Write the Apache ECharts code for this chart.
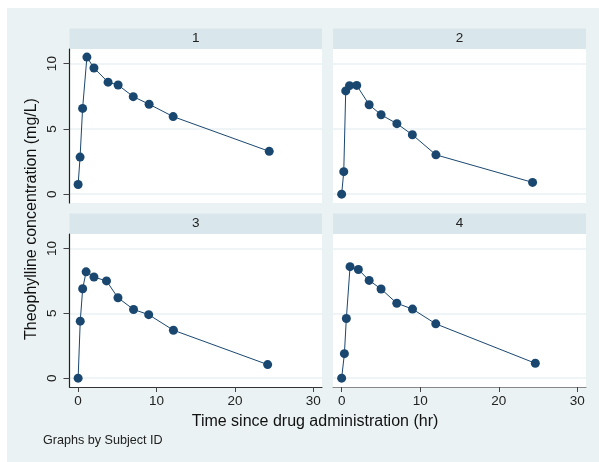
<!DOCTYPE html>
<html><head><meta charset="utf-8">
<script src="https://cdn.jsdelivr.net/npm/echarts@6/dist/echarts.min.js"></script>
<style>html,body{margin:0;padding:0;background:#fff}#c{width:599px;height:462px}</style>
</head><body><div id="c"></div>
<script>
const subjects = ['1','2','3','4'];
const time1 = [0, 0.25, 0.57, 1.12, 2.02, 3.82, 5.10, 7.03, 9.05, 12.12, 24.37];
const conc1 = [0.74, 2.84, 6.57, 10.50, 9.66, 8.58, 8.36, 7.47, 6.89, 5.94, 3.28];
const time2 = [0, 0.27, 0.52, 1.00, 1.92, 3.50, 5.02, 7.03, 9.00, 12.00, 24.30];
const conc2 = [0.00, 1.72, 7.91, 8.31, 8.33, 6.85, 6.08, 5.40, 4.55, 3.01, 0.90];
const time3 = [0, 0.27, 0.58, 1.02, 2.02, 3.62, 5.08, 7.07, 9.00, 12.15, 24.17];
const conc3 = [0.00, 4.40, 6.90, 8.20, 7.80, 7.50, 6.20, 5.30, 4.90, 3.70, 1.05];
const time4 = [0, 0.35, 0.60, 1.07, 2.13, 3.50, 5.02, 7.02, 9.02, 11.98, 24.65];
const conc4 = [0.00, 1.89, 4.60, 8.60, 8.38, 7.54, 6.88, 5.78, 5.33, 4.19, 1.15];
const xTicks = [0, 10, 20, 30];
const yTicks = [0, 5, 10];
const yTitle = 'Theophylline concentration (mg/L)';
const xTitle = 'Time since drug administration (hr)';
const note = 'Graphs by Subject ID';

const times = [time1, time2, time3, time4];
const concs = [conc1, conc2, conc3, conc4];
const FONT = '"Liberation Sans", Arial, sans-serif';
const NAVY = '#1a476f';
const BG = '#eaf2f3';
const STRIP = '#d9e6eb';

const grids = [
  {left: 69.5, top: 49, width: 252.5, height: 154},
  {left: 333, top: 49, width: 253, height: 154},
  {left: 69.5, top: 234, width: 252.5, height: 153},
  {left: 333, top: 234, width: 253, height: 153}
];

const chart = echarts.init(document.getElementById('c'), null, {renderer: 'canvas'});

const graphic = [
  {type: 'rect', z: -10, shape: {x: 7, y: 8, width: 592, height: 454}, style: {fill: BG}, silent: true}
];
grids.forEach((g, i) => {
  graphic.push({type: 'rect', z: -5, shape: {x: g.left, y: g.top - 20.5, width: g.width, height: 20.5}, style: {fill: STRIP}, silent: true});
  graphic.push({type: 'rect', z: -5, shape: {x: g.left, y: g.top, width: g.width, height: g.height}, style: {fill: '#fff'}, silent: true});
  graphic.push({type: 'text', z: 5, x: g.left + g.width / 2, y: g.top - 10.5,
    style: {text: subjects[i], font: '13.5px ' + FONT, fill: '#222', align: 'center', verticalAlign: 'middle'}});
});
graphic.push({type: 'text', x: 32, y: 219, rotation: Math.PI / 2,
  style: {text: yTitle, font: '16px ' + FONT, fill: '#111', align: 'center', verticalAlign: 'middle'}});
graphic.push({type: 'text', x: 315, y: 422,
  style: {text: xTitle, font: '16px ' + FONT, fill: '#111', align: 'center', verticalAlign: 'middle'}});
graphic.push({type: 'text', x: 43, y: 441,
  style: {text: note, font: '12.6px ' + FONT, fill: '#222', align: 'left', verticalAlign: 'middle'}});

const xAxis = grids.map((g, i) => {
  const bottom = i >= 2;
  return {
    type: 'value', gridIndex: i, min: -1.1, max: 31.1,
    axisLine: {show: bottom, onZero: false, lineStyle: {color: i === 2 ? '#333' : '#888', width: 1.2}},
    axisTick: {show: bottom, customValues: xTicks, length: 5, lineStyle: {color: '#444'}},
    axisLabel: {show: bottom, customValues: xTicks, margin: 7, fontSize: 13.5, fontFamily: FONT, color: '#222'},
    splitLine: {show: false}
  };
});
const yAxis = grids.map((g, i) => {
  const left = i % 2 === 0;
  return {
    type: 'value', gridIndex: i, min: -0.68, max: 11.12,
    axisLine: {show: left, onZero: false, lineStyle: {color: '#222', width: 1.2}},
    axisTick: {show: left, customValues: yTicks, length: 6, lineStyle: {color: '#444'}},
    axisLabel: {show: left, customValues: yTicks, rotate: 90, margin: 10, fontSize: 13.5, fontFamily: FONT, color: '#222'},
    splitLine: {show: false}
  };
});
const series = grids.map((g, i) => ({
  type: 'line', xAxisIndex: i, yAxisIndex: i,
  data: times[i].map((t, k) => [t, concs[i][k]]),
  symbol: 'circle', symbolSize: 9, showSymbol: true,
  itemStyle: {color: NAVY},
  lineStyle: {color: NAVY, width: 1},
  animation: false,
  markLine: {
    silent: true, symbol: 'none', label: {show: false}, z: 0,
    lineStyle: {color: BG, width: 1.5, type: 'solid'},
    data: yTicks.map(v => ({yAxis: v}))
  }
}));

chart.setOption({
  animation: false,
  backgroundColor: '#fff',
  grid: grids.map(g => Object.assign({containLabel: false}, g)),
  xAxis, yAxis, series, graphic
});
</script></body></html>
